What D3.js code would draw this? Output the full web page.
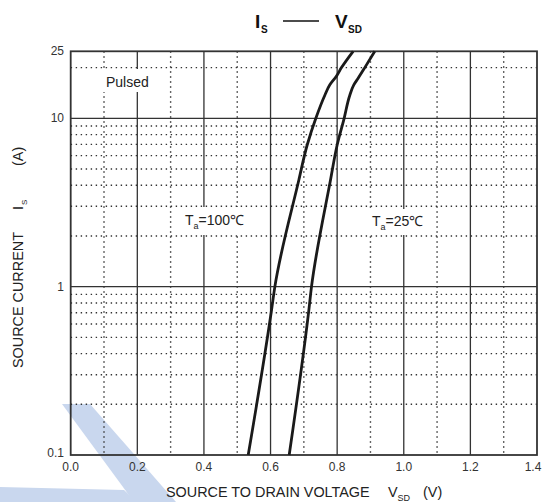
<!DOCTYPE html>
<html>
<head>
<meta charset="utf-8">
<script src="https://cdn.jsdelivr.net/npm/d3@7"></script>
<style>
    html, body { margin: 0; padding: 0; background: #fff; }
    svg { display: block; font-family: "Liberation Sans", Arial, sans-serif; }
</style>
</head>
<body>
<svg id="chart" width="543" height="502"></svg>
<script>
(function() {
    'use strict';

    // values
    var xTicks = [0.0, 0.2, 0.4, 0.6, 0.8, 1.0, 1.2, 1.4];
    var xMinor = [0.1, 0.3, 0.5, 0.7, 0.9, 1.1, 1.3];
    var yTicks = [0.1, 1, 10, 25];
    var yMajor = [1, 10];
    var yMinor = [0.2, 0.3, 0.4, 0.5, 0.6, 0.7, 0.8, 0.9, 2, 3, 4, 5, 6, 7, 8, 9, 20];

    var vsd100 = [0.533, 0.603, 0.613, 0.685, 0.710, 0.736, 0.763, 0.778, 0.798, 0.813, 0.848];
    var is100  = [0.1,   0.726, 1.0,   4.3,   6.94,  10,    13.7,  15.8,  17.8,  20,    25];
    var vsd25  = [0.656, 0.715, 0.723, 0.780, 0.800, 0.821, 0.838, 0.850, 0.863, 0.883, 0.913];
    var is25   = [0.1,   0.726, 1.0,   4.3,   6.94,  10,    13.7,  15.8,  17.3,  20,    25];

    var svg = d3.select('#chart');

    var x = d3.scaleLinear().domain([0, 1.4]).range([70.7, 537]);
    var y = d3.scaleLog().domain([0.1, 25]).range([455, 51.3]);

    /******************************************************************
        watermark bands (light blue, behind everything)
     ******************************************************************/
    svg.append('path')
        .attr('d', 'M62 404 L90 404 L176 502 L134 502 Z')
        .style('fill', '#c9d7ee');
    svg.append('path')
        .attr('d', 'M0 487 L124 490 L137 502 L0 502 Z')
        .style('fill', '#c9d7ee');

    /******************************************************************
        grid
     ******************************************************************/
    var grid = svg.append('g');

    grid.selectAll('line.xmin').data(xMinor).enter().append('line')
        .attr('x1', function(d) { return x(d); })
        .attr('x2', function(d) { return x(d); })
        .attr('y1', y(25)).attr('y2', y(0.1))
        .style('stroke', '#333').style('stroke-width', 1.4)
        .style('stroke-dasharray', '1.4,3.6');

    grid.selectAll('line.ymin').data(yMinor).enter().append('line')
        .attr('y1', function(d) { return y(d); })
        .attr('y2', function(d) { return y(d); })
        .attr('x1', x(0)).attr('x2', x(1.4))
        .style('stroke', '#333').style('stroke-width', 1.4)
        .style('stroke-dasharray', '1.4,3.6');

    grid.selectAll('line.xmaj').data(xTicks.slice(1, -1)).enter().append('line')
        .attr('x1', function(d) { return x(d); })
        .attr('x2', function(d) { return x(d); })
        .attr('y1', y(25)).attr('y2', y(0.1))
        .style('stroke', '#333').style('stroke-width', 1.3);

    grid.selectAll('line.ymaj').data(yMajor).enter().append('line')
        .attr('y1', function(d) { return y(d); })
        .attr('y2', function(d) { return y(d); })
        .attr('x1', x(0)).attr('x2', x(1.4))
        .style('stroke', '#333').style('stroke-width', 1.3);

    // frame
    svg.append('rect')
        .attr('x', x(0)).attr('y', y(25))
        .attr('width', x(1.4) - x(0))
        .attr('height', y(0.1) - y(25))
        .style('fill', 'none').style('stroke', '#333').style('stroke-width', 1.8);

    /******************************************************************
        labels inside the plot (white boxes cut the grid)
     ******************************************************************/
    function boxLabel(bx, by, bw, bh) {
        svg.append('rect')
            .attr('x', bx).attr('y', by).attr('width', bw).attr('height', bh)
            .style('fill', '#fff');
    }
    boxLabel(102, 69, 52, 23);
    boxLabel(181, 207, 72, 28);
    boxLabel(367, 209, 62, 26);

    svg.append('text')
        .attr('x', 106).attr('y', 87)
        .style('font-size', '14px').style('fill', '#222')
        .text('Pulsed');

    function taLabel(tx, ty, temp) {
        var t = svg.append('text')
            .attr('x', tx).attr('y', ty)
            .style('font-size', '14px').style('fill', '#222');
        t.append('tspan').text('T');
        t.append('tspan').attr('dy', 4).style('font-size', '9px').text('a');
        t.append('tspan').attr('dy', -4).text('=' + temp + '℃');
    }
    taLabel(185, 225, 100);
    taLabel(372, 226, 25);

    /******************************************************************
        curves
     ******************************************************************/
    var line = d3.line()
        .x(function(d) { return x(d[0]); })
        .y(function(d) { return y(d[1]); })
        .curve(d3.curveMonotoneY);

    [[vsd100, is100], [vsd25, is25]].forEach(function(s) {
        svg.append('path')
            .datum(d3.zip(s[0], s[1]))
            .attr('d', line)
            .style('fill', 'none')
            .style('stroke', '#1a1a1a')
            .style('stroke-width', 2.8);
    });

    /******************************************************************
        tick labels
     ******************************************************************/
    svg.selectAll('text.xt').data(xTicks).enter().append('text')
        .attr('x', function(d) { return Math.min(x(d), 533); })
        .attr('y', 471)
        .attr('text-anchor', 'middle')
        .style('font-size', '12px').style('fill', '#333')
        .text(function(d) { return d.toFixed(1); });

    svg.selectAll('text.yt').data(yTicks).enter().append('text')
        .attr('x', 64)
        .attr('y', function(d) { return y(d) + (d === 0.1 ? 2 : 4); })
        .attr('text-anchor', 'end')
        .style('font-size', '12px').style('fill', '#333')
        .text(function(d) { return String(d); });

    /******************************************************************
        axis titles and chart title
     ******************************************************************/
    svg.append('text')
        .attr('x', 166).attr('y', 497)
        .style('font-size', '14.4px').style('fill', '#222')
        .text('SOURCE TO DRAIN VOLTAGE');
    var xt = svg.append('text')
        .attr('x', 388).attr('y', 497)
        .style('font-size', '14.4px').style('fill', '#222');
    xt.append('tspan').text('V');
    xt.append('tspan').attr('dy', 4).style('font-size', '9px').text('SD');
    xt.append('tspan').attr('x', 423).attr('dy', -4).text('(V)');

    function yLabel(pos, txt, size) {
        return svg.append('text')
            .attr('transform', 'translate(23,' + pos + ') rotate(-90)')
            .style('font-size', size + 'px').style('fill', '#222')
            .text(txt);
    }
    yLabel(368, 'SOURCE CURRENT', 14.4);
    yLabel(210, 'I', 14.4);
    svg.append('text')
        .attr('transform', 'translate(27,205) rotate(-90)')
        .style('font-size', '8px').style('fill', '#222')
        .text('S');
    yLabel(166, '(A)', 14.4);

    var title = svg.append('g').style('font-weight', 'bold').style('fill', '#111');
    title.append('text').attr('x', 255).attr('y', 28).style('font-size', '19px').text('I');
    title.append('text').attr('x', 261).attr('y', 33).style('font-size', '10px').text('S');
    title.append('line')
        .attr('x1', 283).attr('x2', 319).attr('y1', 21).attr('y2', 21)
        .style('stroke', '#111').style('stroke-width', 1.6);
    title.append('text').attr('x', 335).attr('y', 28).style('font-size', '19px').text('V');
    title.append('text').attr('x', 348).attr('y', 33).style('font-size', '10px').text('SD');
})();
</script>
</body>
</html>
